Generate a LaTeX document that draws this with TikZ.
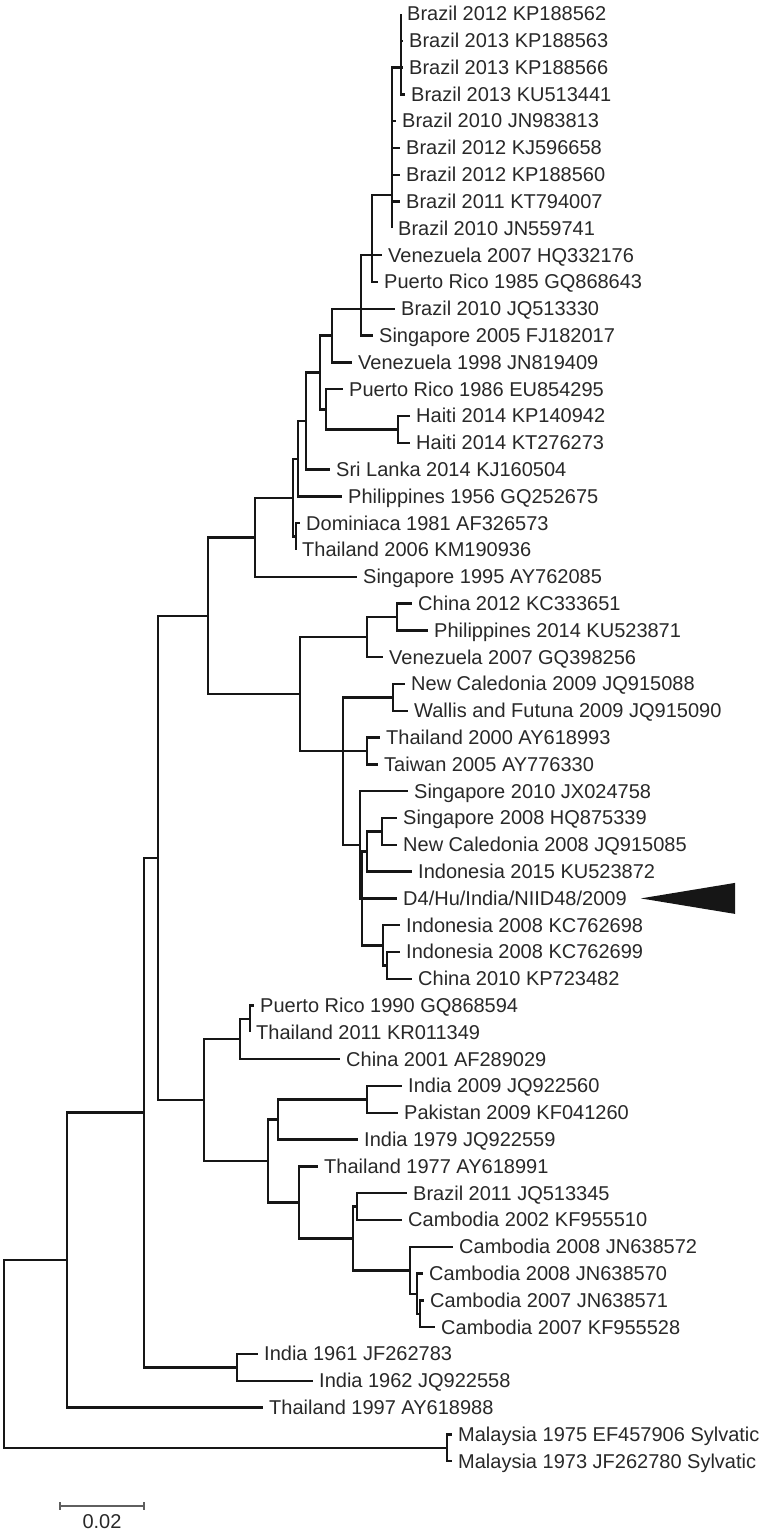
\documentclass[tikz,border=0pt]{standalone}
\usepackage{fontspec}
\setmainfont{Liberation Sans}
\usetikzlibrary{positioning}
\definecolor{branchink}{RGB}{22,22,22}
\definecolor{labelink}{RGB}{40,40,40}
\definecolor{barink}{RGB}{95,95,95}
\newcommand{\leaffont}{\fontsize{20}{24}\selectfont}
\tikzset{
  branch/.style={draw=branchink, line width=2.4pt},
  leafpt/.style={inner sep=0pt, minimum size=0pt},
  taxon/.style={anchor=base west, xshift=6pt, yshift=-7pt, inner sep=0pt,
                font=\leaffont, text=labelink},
  scalebar/.style={draw=barink, line width=1.3pt},
}

\begin{document}
\begin{tikzpicture}[x=1pt, y=-1pt]
  \useasboundingbox (0,0) rectangle (782,1533);
  % taxa
  \node[leafpt, label={[taxon]Brazil 2012 KP188562}] (l1) at (401,14.0) {};
  \node[leafpt, label={[taxon]Brazil 2013 KP188563}] (l2) at (403,40.8) {};
  \node[leafpt, label={[taxon]Brazil 2013 KP188566}] (l3) at (403,67.6) {};
  \node[leafpt, label={[taxon]Brazil 2013 KU513441}] (l4) at (405,94.4) {};
  \node[leafpt, label={[taxon]Brazil 2010 JN983813}] (l5) at (396,121.2) {};
  \node[leafpt, label={[taxon]Brazil 2012 KJ596658}] (l6) at (400,148.0) {};
  \node[leafpt, label={[taxon]Brazil 2012 KP188560}] (l7) at (400,174.8) {};
  \node[leafpt, label={[taxon]Brazil 2011 KT794007}] (l8) at (400,201.6) {};
  \node[leafpt, label={[taxon]Brazil 2010 JN559741}] (l9) at (392,228.4) {};
  \node[leafpt, label={[taxon]Venezuela 2007 HQ332176}] (l10) at (382,255.2) {};
  \node[leafpt, label={[taxon]Puerto Rico 1985 GQ868643}] (l11) at (378,282.0) {};
  \node[leafpt, label={[taxon]Brazil 2010 JQ513330}] (l12) at (395,308.8) {};
  \node[leafpt, label={[taxon]Singapore 2005 FJ182017}] (l13) at (373,335.6) {};
  \node[leafpt, label={[taxon]Venezuela 1998 JN819409}] (l14) at (352,362.4) {};
  \node[leafpt, label={[taxon]Puerto Rico 1986 EU854295}] (l15) at (343,389.2) {};
  \node[leafpt, label={[taxon]Haiti 2014 KP140942}] (l16) at (410,416.0) {};
  \node[leafpt, label={[taxon]Haiti 2014 KT276273}] (l17) at (410,442.8) {};
  \node[leafpt, label={[taxon]Sri Lanka 2014 KJ160504}] (l18) at (330,469.6) {};
  \node[leafpt, label={[taxon]Philippines 1956 GQ252675}] (l19) at (342,496.4) {};
  \node[leafpt, label={[taxon]Dominiaca 1981 AF326573}] (l20) at (300,523.2) {};
  \node[leafpt, label={[taxon]Thailand 2006 KM190936}] (l21) at (296,550.0) {};
  \node[leafpt, label={[taxon]Singapore 1995 AY762085}] (l22) at (357,576.8) {};
  \node[leafpt, label={[taxon]China 2012 KC333651}] (l23) at (412,603.6) {};
  \node[leafpt, label={[taxon]Philippines 2014 KU523871}] (l24) at (428,630.4) {};
  \node[leafpt, label={[taxon]Venezuela 2007 GQ398256}] (l25) at (383,657.2) {};
  \node[leafpt, label={[taxon]New Caledonia 2009 JQ915088}] (l26) at (405,684.0) {};
  \node[leafpt, label={[taxon]Wallis and Futuna 2009 JQ915090}] (l27) at (408,710.8) {};
  \node[leafpt, label={[taxon]Thailand 2000 AY618993}] (l28) at (380,737.6) {};
  \node[leafpt, label={[taxon]Taiwan 2005 AY776330}] (l29) at (378,764.4) {};
  \node[leafpt, label={[taxon]Singapore 2010 JX024758}] (l30) at (408,791.2) {};
  \node[leafpt, label={[taxon]Singapore 2008 HQ875339}] (l31) at (397,818.0) {};
  \node[leafpt, label={[taxon]New Caledonia 2008 JQ915085}] (l32) at (397,844.8) {};
  \node[leafpt, label={[taxon]Indonesia 2015 KU523872}] (l33) at (412,871.6) {};
  \node[leafpt, label={[taxon,name=d4txt]D4/Hu/India/NIID48/2009}] (l34) at (397,898.4) {};
  \node[leafpt, label={[taxon]Indonesia 2008 KC762698}] (l35) at (400,925.2) {};
  \node[leafpt, label={[taxon]Indonesia 2008 KC762699}] (l36) at (400,952.0) {};
  \node[leafpt, label={[taxon]China 2010 KP723482}] (l37) at (412,978.8) {};
  \node[leafpt, label={[taxon]Puerto Rico 1990 GQ868594}] (l38) at (254,1005.6) {};
  \node[leafpt, label={[taxon]Thailand 2011 KR011349}] (l39) at (250,1032.4) {};
  \node[leafpt, label={[taxon]China 2001 AF289029}] (l40) at (340,1059.2) {};
  \node[leafpt, label={[taxon]India 2009 JQ922560}] (l41) at (402,1086.0) {};
  \node[leafpt, label={[taxon]Pakistan 2009 KF041260}] (l42) at (398,1112.8) {};
  \node[leafpt, label={[taxon]India 1979 JQ922559}] (l43) at (358,1139.6) {};
  \node[leafpt, label={[taxon]Thailand 1977 AY618991}] (l44) at (318,1166.4) {};
  \node[leafpt, label={[taxon]Brazil 2011 JQ513345}] (l45) at (407,1193.2) {};
  \node[leafpt, label={[taxon]Cambodia 2002 KF955510}] (l46) at (402,1220.0) {};
  \node[leafpt, label={[taxon]Cambodia 2008 JN638572}] (l47) at (453,1246.8) {};
  \node[leafpt, label={[taxon]Cambodia 2008 JN638570}] (l48) at (423,1273.6) {};
  \node[leafpt, label={[taxon]Cambodia 2007 JN638571}] (l49) at (424,1300.4) {};
  \node[leafpt, label={[taxon]Cambodia 2007 KF955528}] (l50) at (435,1327.2) {};
  \node[leafpt, label={[taxon]India 1961 JF262783}] (l51) at (258,1354.0) {};
  \node[leafpt, label={[taxon]India 1962 JQ922558}] (l52) at (313,1380.8) {};
  \node[leafpt, label={[taxon]Thailand 1997 AY618988}] (l53) at (263,1407.6) {};
  \node[leafpt, label={[taxon]Malaysia 1975 EF457906 Sylvatic}] (l54) at (452,1434.4) {};
  \node[leafpt, label={[taxon]Malaysia 1973 JF262780 Sylvatic}] (l55) at (452,1461.2) {};
  % internal nodes
  \coordinate (brA) at (401,67.6);
  \coordinate (brB) at (392,195.0);
  \coordinate (brC) at (372,255.2);
  \coordinate (brD) at (361,308.8);
  \coordinate (brE) at (332,335.6);
  \coordinate (haiti) at (398,429.4);
  \coordinate (prh) at (326,409.3);
  \coordinate (amF) at (320,372.5);
  \coordinate (amH) at (306,421.0);
  \coordinate (amI) at (298,458.7);
  \coordinate (domth) at (296,536.6);
  \coordinate (amJ) at (293,497.7);
  \coordinate (cosmo) at (255,537.3);
  \coordinate (chph) at (397,617.0);
  \coordinate (chvz) at (367,637.0);
  \coordinate (ncwf) at (393,697.4);
  \coordinate (thtw) at (367,751.0);
  \coordinate (sgnc) at (382,831.4);
  \coordinate (sgid) at (367,851.5);
  \coordinate (idch) at (387,965.4);
  \coordinate (idcl) at (383,945.3);
  \coordinate (indo) at (362,898.4);
  \coordinate (sg10) at (360,844.8);
  \coordinate (pacA) at (343,751.0);
  \coordinate (pacB) at (300,694.0);
  \coordinate (genI) at (208,615.7);
  \coordinate (prth) at (250,1019.0);
  \coordinate (prcn) at (240,1039.1);
  \coordinate (inpk) at (367,1099.4);
  \coordinate (inpk2) at (278,1119.5);
  \coordinate (camC) at (420,1313.8);
  \coordinate (camB) at (417,1293.7);
  \coordinate (camA) at (410,1270.3);
  \coordinate (brcm) at (357,1206.6);
  \coordinate (camall) at (353,1238.4);
  \coordinate (thcm) at (299,1202.4);
  \coordinate (genII) at (268,1161.0);
  \coordinate (genIIall) at (204,1100.0);
  \coordinate (geno) at (158,857.9);
  \coordinate (in6x) at (237,1367.4);
  \coordinate (genoin) at (144,1112.6);
  \coordinate (endem) at (67,1260.1);
  \coordinate (sylv) at (447,1447.8);
  \coordinate (root) at (4,1354.0);
  % branches
  \foreach \p/\c in {brA/l1,brA/l2,brA/l3,brA/l4,
      brB/brA,brB/l5,brB/l6,brB/l7,brB/l8,brB/l9,
      brC/brB,brC/l10,brC/l11, brD/brC,brD/l12,brD/l13, brE/brD,brE/l14,
      haiti/l16,haiti/l17, prh/l15,prh/haiti, amF/brE,amF/prh,
      amH/amF,amH/l18, amI/amH,amI/l19, domth/l20,domth/l21,
      amJ/amI,amJ/domth, cosmo/amJ,cosmo/l22,
      chph/l23,chph/l24, chvz/chph,chvz/l25, ncwf/l26,ncwf/l27,
      thtw/l28,thtw/l29, sgnc/l31,sgnc/l32, sgid/sgnc,sgid/l33,
      idch/l36,idch/l37, idcl/l35,idcl/idch, indo/sgid,indo/l34,indo/idcl,
      sg10/l30,sg10/indo, pacA/ncwf,pacA/thtw,pacA/sg10,
      pacB/chvz,pacB/pacA, genI/cosmo,genI/pacB,
      prth/l38,prth/l39, prcn/prth,prcn/l40, inpk/l41,inpk/l42,
      inpk2/inpk,inpk2/l43, camC/l49,camC/l50, camB/l48,camB/camC,
      camA/l47,camA/camB, brcm/l45,brcm/l46, camall/brcm,camall/camA,
      thcm/l44,thcm/camall, genII/inpk2,genII/thcm,
      genIIall/prcn,genIIall/genII, geno/genI,geno/genIIall,
      in6x/l51,in6x/l52, genoin/geno,genoin/in6x,
      endem/genoin,endem/l53, sylv/l54,sylv/l55, root/endem,root/sylv}
    \draw[branch] (\p) |- (\c);
  % study strain marker
  \coordinate (pointer) at ([xshift=14pt]d4txt.east |- l34);
  \coordinate (pointerbase) at (735,898.4);
  \fill[branchink] (pointer) -- ([yshift=15.5pt]pointerbase) -- ([yshift=-15.5pt]pointerbase) -- cycle;
  % scale bar
  \coordinate (sbl) at (60,1506);
  \coordinate (sbr) at (144,1506);
  \draw[scalebar] (sbl) -- (sbr);
  \draw[scalebar] ([yshift=4pt]sbl) -- ([yshift=-4pt]sbl);
  \draw[scalebar] ([yshift=4pt]sbr) -- ([yshift=-4pt]sbr);
  \node[font=\leaffont, text=labelink, anchor=base, inner sep=0pt] (sblab) at (102,1528) {0.02};
\end{tikzpicture}
\end{document}
